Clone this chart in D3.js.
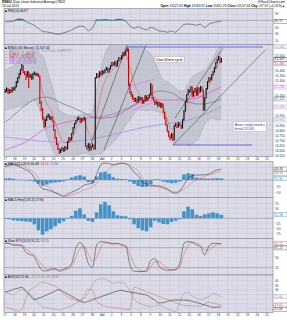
<!DOCTYPE html>
<html>
<head>
<meta charset="utf-8">
<script src="https://cdn.jsdelivr.net/npm/d3@7"></script>
<style>
  body { margin: 0; background: #fff; }
  svg text { font-family: "Liberation Sans", Arial, sans-serif; }
</style>
</head>
<body>
<svg id="chart" width="287" height="320"></svg>
<script>
/*** DATA ***/

// day tick labels (one per trading day, 7 hourly bars each)
const dayLabels = ["17","18","19","20","21","24","25","26","27","28","Jul","2","3","5","8","9","10","11","12","15","16","17","18","19","22","23","24","25"];

// hourly bars
const closes = [
  15190,15210,15170,15200,15180,15220,15200, 15230,15280,15320,15360,15400,15450,15380,
  15360,15340,15380,15330,15350,15310,15360, 15370,15350,15360,15340,15080,15010,14920,
  14840,14900,14930,14950,14910,14930,14890, 14800,14720,14660,14610,14580,14600,14620,
  14590,14630,14610,14680,14720,14700,14760, 14820,14860,14890,14910,14920,14880,14910,
  14900,14920,14640,14620,14660,14600,14630, 14650,14610,15320,15360,15330,15380,15350,
  15390,15370,15400,15420,15380,15410,15440, 15470,15450,15480,15440,15490,15520,15510,
  15540,15570,15550,15590,15610,15260,15180, 15150,15120,15090,15110,15080,15130,15100,
  15120,15070,15090,15140,15100,15120,15150, 15250,15120,15100,15060,15080,15040,15070,
  15030,15060,14980,14920,14850,14790,14740, 14720,14760,14700,14840,14860,14830,14870,
  14850,14820,14900,14990,15080,15150,15200, 15180,15230,15140,15180,15210,15150,15220,
  15180,15230,15200,15000,15120,15210,15280, 15320,15300,15350,15380,15420,15470,15500,
  15530,15480,15507];
const highs = [
  15210,15225,15220,15210,15205,15230,15225, 15240,15290,15330,15370,15410,15460,15450,
  15390,15370,15390,15385,15360,15355,15370, 15385,15375,15370,15365,15345,15090,15020,
  14930,14910,14945,14965,14955,14940,14935, 14895,14810,14730,14670,14620,14610,14630,
  14625,14640,14635,14690,14730,14725,14770, 14830,14870,14900,14925,14935,14925,14920,
  14920,14935,14925,14650,14670,14665,14640, 14665,14655,15330,15370,15365,15390,15385,
  15400,15395,15410,15430,15425,15420,15450, 15480,15475,15490,15485,15500,15530,15525,
  15550,15580,15575,15600,15625,15615,15265, 15190,15160,15130,15120,15115,15140,15135,
  15130,15125,15100,15150,15145,15130,15160, 15270,15255,15130,15105,15090,15085,15080,
  15075,15070,15065,14985,14925,14855,14795, 14750,14770,14765,14850,14870,14865,14880,
  14875,14855,14910,15000,15090,15160,15210, 15205,15240,15235,15190,15220,15215,15230,
  15225,15240,15235,15205,15130,15220,15290, 15330,15325,15360,15390,15430,15480,15510,
  15540,15535,15520];
const lows = [
  15170,15180,15160,15165,15170,15175,15190, 15195,15225,15270,15315,15350,15395,15370,
  15350,15300,15330,15220,15320,15300,15305, 15350,15340,15340,15330,15060,14990,14900,
  14820,14830,14890,14920,14900,14900,14880, 14790,14710,14650,14600,14560,14570,14590,
  14580,14585,14600,14605,14675,14690,14695, 14755,14815,14855,14885,14900,14870,14875,
  14890,14895,14630,14600,14615,14590,14595, 14625,14600,14605,15315,15320,15325,15340,
  15345,15360,15365,15395,15370,15375,15405, 15435,15440,15445,15430,15435,15485,15500,
  15505,15535,15540,15545,15585,15240,15160, 15130,15100,15080,15080,15070,15075,15090,
  15095,15060,15065,15085,15090,15095,15115, 15145,15110,15090,15050,15055,15030,15035,
  15020,15025,14970,14910,14840,14780,14730, 14700,14715,14690,14695,14835,14820,14825,
  14840,14810,14815,14895,14985,15075,15145, 15170,15175,15130,15135,15175,15140,15145,
  15170,15175,15190,14990,14995,15115,15205, 15275,15290,15295,15345,15375,15415,15465,
  15495,15470,15475];

// overlays and indicators, one value every 3 bars
const bbUpper = [15400,15420,15440,15480,15540,15560,15570,15570,15570,15540,15420,15280,15130,15000,14970,14950,14940,14940,14950,14960,14960,14980,15200,15400,15560,15640,15680,15690,15690,15700,15700,15690,15670,15640,15600,15560,15480,15380,15300,15280,15250,15220,15190,15190,15260,15330,15360,15380,15400,15450,15520,15600,15640];
const bbLower = [15000,15010,15020,15030,15040,15060,15080,15100,15030,14900,14750,14650,14560,14500,14480,14500,14520,14540,14560,14570,14560,14550,14560,14560,14600,14640,14680,14720,14780,14850,14900,14960,15000,15000,14990,15000,14990,14980,14940,14780,14680,14660,14660,14670,14650,14660,14690,14760,14860,14900,14920,14900,14900];
const ema8 = [15190,15195,15200,15260,15370,15380,15360,15360,15350,15180,15060,15000,14880,14760,14680,14670,14710,14810,14860,14890,14780,14700,14950,15150,15290,15360,15410,15450,15500,15550,15420,15270,15180,15120,15100,15160,15130,15090,15030,14900,14810,14820,14840,14920,15080,15130,15150,15190,15170,15250,15340,15440,15480];
const ma50 = [14880,14910,14950,14980,15020,15050,15080,15100,15120,15125,15130,15120,15100,15080,15060,15045,15030,15010,14990,14970,14950,14930,14920,14915,14920,14925,14930,14950,14970,15000,15020,15050,15080,15110,15140,15160,15180,15190,15190,15180,15170,15150,15120,15100,15080,15070,15060,15060,15060,15070,15080,15095,15110];
const ma100 = [14600,14615,14630,14645,14660,14680,14710,14740,14770,14795,14820,14835,14850,14860,14870,14880,14890,14900,14905,14910,14920,14925,14928,14930,14940,14950,14960,14975,14995,15010,15030,15045,15065,15080,15090,15095,15100,15100,15100,15100,15100,15100,15100,15100,15105,15115,15125,15135,15150,15170,15190,15210,15230];
const ma200 = [14730,14725,14720,14715,14710,14705,14700,14695,14690,14688,14685,14683,14681,14680,14680,14680,14682,14686,14692,14698,14705,14712,14720,14728,14736,14745,14755,14765,14775,14785,14795,14805,14815,14823,14830,14838,14845,14852,14858,14864,14870,14875,14880,14888,14898,14910,14925,14940,14958,14975,14995,15012,15030];

const rsi = [66,66,68,74,74,66,61,55,46,36,35,33,29,28,32,36,41,48,53,51,38,46,72,71,73,71,70,74,73,69,53,46,51,45,41,49,45,38,37,34,38,34,46,58,59,58,55,59,47,59,63,66,67];
const macd = [53,60,64,56,49,40,31,9,-16,-35,-39,-44,-51,-57,-64,-57,-49,-41,-33,-20,-16,-13,23,61,68,65,60,64,67,65,53,31,17,-8,-15,-24,-23,-24,-29,-36,-48,-53,-44,-20,7,16,20,20,21,24,33,40,44];
const macdSignal = [55,56,57,59,59,51,40,29,9,-11,-24,-37,-49,-59,-67,-64,-61,-55,-47,-40,-35,-25,-13,11,27,44,60,64,67,64,60,48,37,8,-5,-21,-25,-29,-33,-39,-44,-48,-45,-37,-24,-9,0,8,15,20,25,31,33];
const macdHist = [6,7,5,1,-1,-2,-3,-6,-14,-23,-18,-12,-10,-8,-6,3,10,15,19,14,-8,-12,14,30,33,25,11,5,4,3,-6,-15,-24,-28,-27,-18,2,3,-6,-10,-13,-11,-6,22,27,24,10,7,6,5,6,7,6];
const hist2 = [-3,-5,-10,-12,-14,-16,-18,-30,-60,-82,-65,-55,-40,-25,-15,-3,12,38,50,20,-12,-18,30,70,82,65,35,15,12,10,-5,-30,-50,-60,-65,-45,-12,-20,-28,-30,-18,-12,-5,35,58,45,18,12,20,25,30,25,18];
const stoK = [94,92,87,88,85,66,59,53,28,11,10,16,17,9,15,20,33,78,95,78,33,21,88,98,97,93,91,93,87,84,28,9,8,8,11,41,47,25,15,12,13,15,33,93,98,96,88,83,58,85,93,93,91];
const stoD = [93,93,90,88,87,78,66,58,42,25,15,12,14,13,13,16,25,50,78,85,60,38,50,82,95,96,93,92,90,87,60,30,14,9,9,22,38,38,28,18,13,13,22,60,85,96,93,88,73,72,83,90,92];
const adx = [27.7,28.8,30.7,31.7,32.8,28.4,23.7,19.4,20.9,22.6,24.5,26.6,28.8,30.2,28,25.6,23,20.5,18,16.5,17.5,19.4,20.9,22.6,24.2,25.6,27.4,28.8,29.5,28.4,27.7,27,26.3,25.2,24.5,21.6,18.7,15.8,16.1,17.5,18.7,19,19,19,18.7,17.5,16.5,15,13.6,12.5,11,11.3,11.7];
const plusDI = [27.4,25.9,24.5,27.7,30.6,29.2,25.5,21.2,15.8,11.4,10.7,9.6,8.9,8.2,9.6,11,12.9,15.8,19,21.2,26.6,35.3,41.2,41.9,42.2,39.6,37.1,38.2,37.8,35,28.8,19.4,16.5,14,12.9,11.7,12.5,13.6,11.7,9.2,7.7,6.7,17.2,26.3,27.7,23.3,20.9,19.4,20.9,23,26.3,24.8,22.6];
const minusDI = [11,10,8.5,7,8.9,20.5,29.9,32.8,36,38.5,37.5,35.7,34.2,30.6,26,22.3,20.1,18.7,17.2,23.9,30.6,29.9,17.2,14.3,12.2,11.4,10.7,10.3,9.6,8.9,8.5,33.1,31.7,29.9,28,26.3,24.8,23,21.2,19.4,17.5,16.1,14.3,13.2,12.9,12.5,12.2,12.2,14.7,16.8,15.7,14.7,13.6];

// drawn trendlines, [bar, price] pairs
const channelLines = [[[59.7,14580],[87.9,15650]], [[71.3,14600],[101.6,15650]], [[122.5,14920],[157.2,15620]], [[121.1,14650],[187.6,15600]]];
const blueLines = [[[87.9,15630],[186,15630]], [[121,14650],[178,14650]]];
const pinkLines = [[[88.6,15230],[108.1,15310]], [[91.5,15000],[108.1,15080]], [[131.2,15220],[142.8,15140]], [[131.2,15070],[142.8,15140]]];

const priceTicks = d3.range(14550, 15651, 50);

/*** SETUP ***/

const svg = d3.select("#chart");
const L = 4, R = 273, FS = 3.2;
const BG = "#dcdce8", GRID = "#c6c6d6", EDGE = "#80808e";

let x = d3.scaleLinear().domain([0, 28]).range([4.5, 4.5 + 9.7 * 28]);
const xb = (k) => x((k + 0.5) / 7);        // bar index -> px
const xs = (d, j) => xb(j * 3);             // sample index -> px

let yRsi  = d3.scaleLinear().domain([0, 100]).range([43.5, 10.5]),
    yPx   = d3.scaleLinear().domain([14530, 15650]).range([157, 45]),
    yMacd = d3.scaleLinear().domain([-70, 75]).range([197.5, 161.25]),
    yHist = d3.scaleLinear().domain([-100, 100]).range([238.3, 198.3]),
    ySto  = d3.scaleLinear().domain([0, 100]).range([274.3, 241]),
    yAdx  = d3.scaleLinear().domain([5, 45]).range([312.9, 276.1]);

/*** HELPERS ***/

function panel(id, top, bot, y, ticks, fmt, dark) {
    svg.append("rect").attr("x", L).attr("y", top).attr("width", R - L).attr("height", bot - top).attr("fill", BG);

    svg.append("clipPath").attr("id", "clip-" + id)
        .append("rect").attr("x", L).attr("y", top).attr("width", R - L).attr("height", bot - top);

    svg.append("g").selectAll("line")
        .data(d3.range(dayLabels.length)).enter()
        .append("line")
        .attr("x1", (d) => x(d)).attr("x2", (d) => x(d))
        .attr("y1", top).attr("y2", bot)
        .attr("stroke", GRID).attr("stroke-width", 0.5);

    svg.append("g").selectAll("line")
        .data(ticks).enter()
        .append("line")
        .attr("x1", L).attr("x2", R)
        .attr("y1", (d) => y(d)).attr("y2", (d) => y(d))
        .attr("stroke", (d) => dark.includes(d) ? "#8c8ca0" : GRID)
        .attr("stroke-dasharray", (d) => dark.includes("dash" + d) ? "1.5,1" : null)
        .attr("stroke-width", (d) => dark.includes(d) ? 0.6 : 0.5);

    let ax = svg.append("g")
        .attr("transform", `translate(${R}, 0)`)
        .call(d3.axisRight(y).tickValues(ticks).tickSize(0).tickPadding(2).tickFormat(fmt || d3.format("d")));
    ax.select(".domain").remove();
    ax.attr("font-size", FS).attr("font-family", null).selectAll("text").attr("fill", "#333");

    svg.append("rect").attr("x", L).attr("y", top).attr("width", R - L).attr("height", bot - top)
        .attr("fill", "none").attr("stroke", EDGE).attr("stroke-width", 0.6);

    let g = svg.append("g").attr("clip-path", `url(#clip-${id})`);
    g.axis = ax;
    g.yScale = y;
    return g;
}

function path(g, data, y, color, w, curve) {
    g.append("path")
        .attr("d", d3.line().x(xs).y((d) => y(d)).curve(curve || d3.curveLinear)(data))
        .attr("fill", "none").attr("stroke", color).attr("stroke-width", w);
}

function segs(g, list, color, w) {
    g.selectAll(null).data(list).enter()
        .append("line")
        .attr("x1", (d) => xb(d[0][0])).attr("y1", (d) => yPx(d[0][1]))
        .attr("x2", (d) => xb(d[1][0])).attr("y2", (d) => yPx(d[1][1]))
        .attr("stroke", color).attr("stroke-width", w);
}

function bars(g, data, y, color) {
    g.selectAll(null).data(data).enter()
        .append("rect")
        .attr("x", (d, j) => xs(d, j) - 1.8)
        .attr("width", 3.6)
        .attr("y", (d) => Math.min(y(d), y(0)))
        .attr("height", (d) => Math.abs(y(d) - y(0)))
        .attr("fill", color);
}

function label(xp, yp, parts, anchor) {
    let t = svg.append("text").attr("x", xp).attr("y", yp).attr("font-size", FS).attr("text-anchor", anchor || "start");
    parts.forEach((p) => t.append("tspan").text(p[0]).attr("fill", p[1] || "#000").attr("font-weight", p[2] ? "bold" : null));
    return t;
}

// value boxes on the right axis: spread apart, the tick labels they cover are dropped
function valBoxes(g, boxes, top, bot) {
    boxes.forEach((b) => b.y = g.yScale(b.v));
    boxes.sort((a, b) => a.y - b.y);
    for (let i = 1; i < boxes.length; i++) boxes[i].y = Math.max(boxes[i].y, boxes[i - 1].y + 4.3);
    let over = boxes[boxes.length - 1].y + 2 - bot;
    if (over > 0) boxes.forEach((b) => b.y -= over);
    for (let i = 0; i < boxes.length; i++) boxes[i].y = Math.max(boxes[i].y, top + 2 + i * 4.3);

    g.axis.selectAll(".tick").filter((t) => boxes.some((b) => Math.abs(g.yScale(t) - b.y) < 3.8)).remove();

    boxes.forEach((b) => {
        svg.append("rect").attr("x", R + 1).attr("y", b.y - 2).attr("width", 13).attr("height", 4)
            .attr("fill", "#fff").attr("stroke", b.c).attr("stroke-width", 0.35);
        svg.append("text").attr("x", R + 1.8).attr("y", b.y + 1.1).attr("font-size", FS).attr("fill", b.c).text(b.t);
    });
}

function note(bar, price, lines, color) {
    let x0 = xb(bar), y0 = yPx(price);
    let box = svg.append("rect").attr("x", x0).attr("y", y0).attr("fill", "#fff").attr("stroke", "#9a9aa8").attr("stroke-width", 0.4);
    let t = svg.append("text").attr("font-size", 3.5).attr("fill", color);
    lines.forEach((s, i) => t.append("tspan").attr("x", x0 + 1.5).attr("y", y0 + 4 + i * 4.3).text(s));
    box.attr("width", t.node().getBBox().width + 3).attr("height", lines.length * 4.3 + 1.5);
}

function dateAxis(yp) {
    let ax = svg.append("g")
        .attr("transform", `translate(0, ${yp})`)
        .call(d3.axisBottom(x).tickValues(d3.range(dayLabels.length)).tickSize(0).tickPadding(0).tickFormat((i) => dayLabels[i]));
    ax.select(".domain").remove();
    ax.attr("font-size", FS).attr("font-family", null).selectAll("text").attr("fill", "#333")
        .attr("font-weight", (i) => dayLabels[i] === "Jul" ? "bold" : null);
}

const last = (a) => a[a.length - 1];

/*** HEADER ***/

label(2, 3.4, [["$INDU", "#000", true], [" (Dow Jones Industrial Average) INDX"]]);
label(2, 7.1, [["18-Jul-2013"]]);
label(285, 3.4, [["@StockCharts.com"]], "end");
label(285, 7.1, [["Open ", "#000", true], ["15527.62 "], ["High ", "#000", true], ["15563.91 "], ["Low ", "#000", true], ["15491.23 "],
                 ["Close ", "#000", true], ["15507.44 "], ["Chg ", "#000", true], ["+37.92 (+0.25%)\u25B2"]], "end");

/*** RSI ***/

let gRsi = panel("rsi", 8.5, 44.5, yRsi, [10, 30, 50, 70, 90], null, [30, 70]);
gRsi.append("path")
    .attr("d", d3.area().x(xs).y0(yRsi(70)).y1((d) => yRsi(Math.max(d, 70)))(rsi))
    .attr("fill", "#2a98b8");
path(gRsi, rsi, yRsi, "#333", 0.55);
label(5, 11.6, [["\u25A0 RSI(14) 66.97"]]);
valBoxes(gRsi, [{v: last(rsi), t: "66.97", c: "#333"}], 8.5, 44.5);

/*** PRICE ***/

let gPx = panel("px", 44.5, 156.5, yPx, priceTicks, d3.format(","), []);

gPx.append("path")
    .attr("d", d3.area().x(xs).y0((d, j) => yPx(bbLower[j])).y1((d) => yPx(d)).curve(d3.curveMonotoneX)(bbUpper))
    .attr("fill", "#b4b8c2").attr("fill-opacity", 0.6);
path(gPx, bbUpper, yPx, "#9a9ca6", 0.4, d3.curveMonotoneX);
path(gPx, bbLower, yPx, "#9a9ca6", 0.4, d3.curveMonotoneX);
path(gPx, ma200, yPx, "#9a8ce6", 0.7, d3.curveMonotoneX);
path(gPx, ma100, yPx, "#e050e0", 0.7, d3.curveMonotoneX);
path(gPx, ma50, yPx, "#555", 0.5, d3.curveMonotoneX);
path(gPx, ema8, yPx, "#e05050", 0.5, d3.curveMonotoneX);

segs(gPx, pinkLines, "#f060e0", 0.55);
segs(gPx, blueLines, "#5a5af0", 0.9);

gPx.selectAll("line.bar")
    .data(closes).enter()
    .append("line")
    .classed("bar", true)
    .attr("x1", (d, k) => xb(k)).attr("x2", (d, k) => xb(k))
    .attr("y1", (d, k) => yPx(highs[k])).attr("y2", (d, k) => yPx(lows[k]))
    .attr("stroke", (d, k) => k > 0 && d < closes[k - 1] ? "#d40000" : "#111")
    .attr("stroke-width", 1.1);

segs(gPx, channelLines, "#222", 0.45);

label(5, 48.6, [["\u25A0 $INDU (60 Minute) 15,507.44"]]);
label(5, 51.7, [["\u2014 BB(20,2.0) 15,640.11, 15,270.04, 14,899.97", "#8a8a94"]]);
label(5, 54.8, [["\u2014 EMA(8) 15,480.27", "#d03030"]]);
label(5, 57.9, [["\u2014 MA(50) 15,110.39", "#555"]]);
label(5, 61.0, [["\u2014 MA(100) 15,230.62", "#d040d0"]]);
label(5, 64.1, [["\u2014 MA(200) 15,030.18", "#8a7ce0"]]);

note(108, 15535, ["Dow 60min cycle"], "#000");
note(164.5, 14885, ["Bears really need a", "break 15100"], "#2a2ad0");

valBoxes(gPx, [
    {v: last(bbUpper), t: "15,640", c: "#8a8a94"},
    {v: last(closes),  t: "15,507", c: "#000"},
    {v: last(ema8),    t: "15,480", c: "#d03030"},
    {v: last(ma100),   t: "15,230", c: "#d040d0"},
    {v: last(ma50),    t: "15,110", c: "#555"},
    {v: last(ma200),   t: "15,030", c: "#8a7ce0"},
    {v: last(bbLower), t: "14,900", c: "#8a8a94"}
], 44.5, 156.5);

dateAxis(157.4);

/*** MACD ***/

let gMacd = panel("macd", 161.5, 197.5, yMacd, [-50, -25, 0, 25, 50], null, [0]);
bars(gMacd, macdHist, yMacd, "#4294c8");
path(gMacd, macdSignal, yMacd, "#e07070", 0.55, d3.curveMonotoneX);
path(gMacd, macd, yMacd, "#333", 0.55, d3.curveMonotoneX);
label(5, 164.6, [["\u25A0 MACD(12,26,9) 44.48"], [", 33.14", "#d04040"], [", 11.34", "#2a7ab8"]]);
valBoxes(gMacd, [
    {v: last(macd),       t: "44.48", c: "#333"},
    {v: last(macdSignal), t: "33.14", c: "#d04040"},
    {v: last(macdHist),   t: "11.34", c: "#2a7ab8"}
], 161.5, 197.5);

/*** HISTOGRAM ***/

let gHist = panel("hist", 197.5, 238.3, yHist, [-75, -50, -25, 0, 25, 50, 75], null, [0]);
bars(gHist, hist2, yHist, "#4294c8");
label(5, 200.8, [["\u25A0 MACD Hist(5,35,5) 17.96"]]);
valBoxes(gHist, [{v: last(hist2), t: "17.96", c: "#2a7ab8"}], 197.5, 238.3);

/*** STOCHASTICS ***/

let gSto = panel("sto", 238.3, 275, ySto, [20, 50, 80], null, [20, 80, "dash50"]);
path(gSto, stoD, ySto, "#e06060", 0.55, d3.curveMonotoneX);
path(gSto, stoK, ySto, "#333", 0.55, d3.curveMonotoneX);
label(5, 241.6, [["\u25A0 Slow STO(14,3) 91.22"], [", 92.15", "#d04040"]]);
valBoxes(gSto, [
    {v: last(stoK), t: "91.22", c: "#333"},
    {v: last(stoD), t: "92.15", c: "#d04040"}
], 238.3, 275);

/*** ADX ***/

let gAdx = panel("adx", 275, 312.5, yAdx, [10, 15, 20, 25, 30, 35, 40], null, []);
path(gAdx, plusDI, yAdx, "#8a9a96", 0.55, d3.curveMonotoneX);
path(gAdx, minusDI, yAdx, "#d07070", 0.55, d3.curveMonotoneX);
path(gAdx, adx, yAdx, "#333", 0.6, d3.curveMonotoneX);
label(5, 278.2, [["\u25A0 ADX(14) 11.66, "], ["+DI 22.60", "#7a8a86"], [", -DI 13.62", "#d04040"]]);
valBoxes(gAdx, [
    {v: last(plusDI),  t: "22.60", c: "#7a8a86"},
    {v: last(minusDI), t: "13.62", c: "#d04040"},
    {v: last(adx),     t: "11.66", c: "#333"}
], 275, 312.5);

dateAxis(313.4);
</script>
</body>
</html>
